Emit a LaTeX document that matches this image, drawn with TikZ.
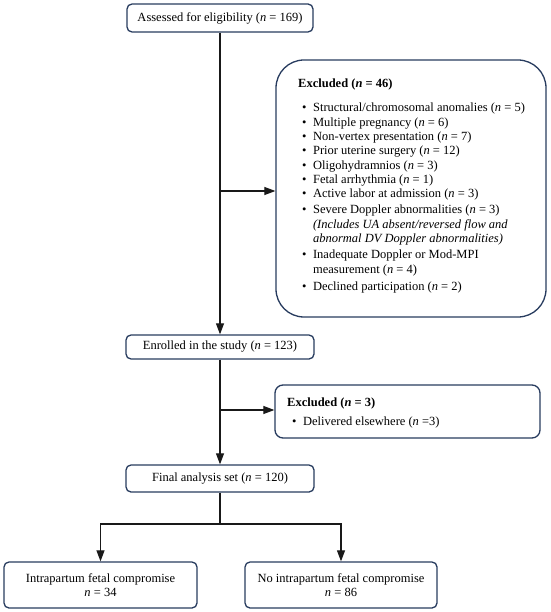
\documentclass[tikz,border=0pt]{standalone}
\usepackage{fontspec}
\setmainfont{Liberation Serif}
\usetikzlibrary{arrows.meta}
\definecolor{boxblue}{RGB}{40,60,95}
\definecolor{linegray}{RGB}{25,25,25}
\newcommand{\nn}{\textit{n}}
\begin{document}
\begin{tikzpicture}[x=1pt,y=-1pt,
  box/.style={draw=boxblue, line width=1.3pt, rounded corners=5pt, fill=white, inner sep=0pt,
    font=\fontsize{12.5}{14.4}\selectfont, align=center},
  listtext/.style={anchor=base west, inner sep=0pt, font=\fontsize{12.5}{14.3}\selectfont},
  conn/.style={draw=linegray, line width=1.1pt},
  arr/.style={conn, -{Triangle[length=11pt,width=8pt]}},
]
\useasboundingbox (0,0) rectangle (550,612);
\fill[white] (0,0) rectangle (550,612);

\node[box, minimum width=186pt, minimum height=28pt] (assess) at (220,18) {Assessed for eligibility (\nn{} = 169)};

\node[box, rounded corners=28pt, minimum width=270pt, minimum height=257pt] (exc1) at (411,188.5) {};
\node[listtext] (exc1txt) at (298,88) {%
\begin{tabular}[t]{@{\hspace{4pt}}l@{\hspace{6.5pt}}l@{}}
\multicolumn{2}{@{}l}{\textbf{Excluded (\textit{n} = 46)}}\\[9.7pt]
\textbullet & Structural/chromosomal anomalies (\nn{} = 5)\\
\textbullet & Multiple pregnancy (\nn{} = 6)\\
\textbullet & Non-vertex presentation (\nn{} = 7)\\
\textbullet & Prior uterine surgery (\nn{} = 12)\\
\textbullet & Oligohydramnios (\nn{} = 3)\\
\textbullet & Fetal arrhythmia (\nn{} = 1)\\
\textbullet & Active labor at admission (\nn{} = 3)\\[1.7pt]
\textbullet & Severe Doppler abnormalities (\nn{} = 3)\\
 & \textit{(Includes UA absent/reversed flow and}\\
 & \textit{abnormal DV Doppler abnormalities)}\\[2.2pt]
\textbullet & Inadequate Doppler or Mod-MPI\\
 & measurement (\nn{} = 4)\\[2.7pt]
\textbullet & Declined participation (\nn{} = 2)
\end{tabular}};

\node[box, minimum width=188pt, minimum height=24pt] (enrol) at (220,347) {Enrolled in the study (\nn{} = 123)};

\node[box, rounded corners=8pt, minimum width=265pt, minimum height=53pt] (exc2) at (407.5,411.5) {};
\node[listtext] (exc2txt) at (287,406) {%
\begin{tabular}[t]{@{\hspace{5pt}}l@{\hspace{6.5pt}}l@{}}
\multicolumn{2}{@{}l}{\textbf{Excluded (\textit{n} = 3)}}\\[4.7pt]
\textbullet & Delivered elsewhere (\nn{} =3)
\end{tabular}};

\node[box, minimum width=188pt, minimum height=27pt] (final) at (220,478.5) {Final analysis set (\nn{} = 120)};

\node[box, minimum width=193pt, minimum height=46pt] (comp) at (100.5,585) {Intrapartum fetal compromise\\\nn{} = 34};
\node[box, minimum width=192pt, minimum height=46pt] (nocomp) at (341,585) {No intrapartum fetal compromise\\\nn{} = 86};

\draw[arr] (assess.south) -- (enrol.north);
\coordinate (b1) at (220,191);
\draw[arr] (b1) -- (b1 -| exc1.west);
\draw[arr] (enrol.south) -- (final.north);
\coordinate (b2) at (220,410);
\draw[arr] (b2) -- (b2 -| exc2.west);
\coordinate (split) at (220,524);
\draw[conn] (final.south) -- (split);
\draw[arr] (split) -| (comp.north);
\draw[arr] (split) -| (nocomp.north);
\end{tikzpicture}
\end{document}
